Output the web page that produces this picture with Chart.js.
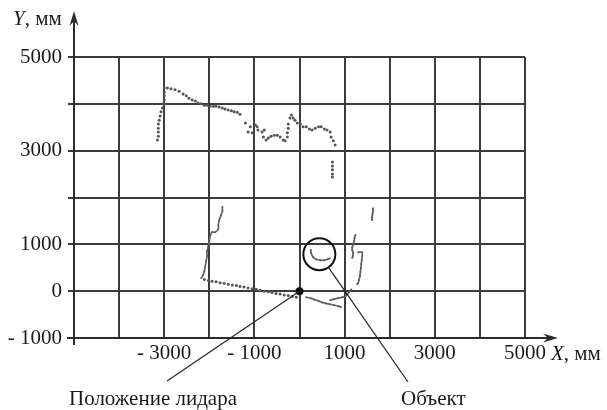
<!DOCTYPE html>
<html>
<head>
<meta charset="utf-8">
<script src="https://cdn.jsdelivr.net/npm/chart.js@4/dist/chart.umd.min.js"></script>
<style>
  html, body { margin: 0; padding: 0; background: #ffffff; }
  canvas { display: block; }
</style>
</head>
<body>
<canvas id="scan" width="607" height="410"></canvas>
<script>
// Lidar scan of the room, coordinates in millimetres relative to the lidar.
const xMin = -5000, xMax = 5000, yMin = -1000, yMax = 5000, gridStep = 1000;
const xLabelValues = [-3000, -1000, 1000, 3000, 5000];
const yLabelValues = [5000, 3000, 1000, 0, -1000];

const wallNorthWest = [[-3000,4340],[-2930,4340],[-2850,4320],[-2760,4300],[-2670,4270],[-2580,4210],[-2510,4170],[-2450,4120],[-2380,4080],[-2310,4060],[-2250,4020],[-2180,4000],[-2110,3970],[-2050,3970],[-1980,3950],[-1910,3950],[-1850,3950],[-1780,3930],[-1710,3910],[-1650,3890],[-1580,3870],[-1510,3850],[-1450,3830],[-1380,3820],[-1320,3780]];
const wallWestUpper = [[-3000,4250],[-3000,4170],[-3000,4080],[-3020,4000],[-3040,3910],[-3070,3830],[-3090,3740],[-3110,3650],[-3130,3570],[-3130,3480],[-3130,3400],[-3130,3310],[-3150,3230]];
const wallNorthEast = [[-1200,3590],[-1140,3400],[-1090,3510],[-1050,3380],[-980,3550],[-940,3510],[-920,3440],[-830,3400],[-780,3440],[-800,3290],[-740,3230],[-690,3270],[-630,3310],[-560,3330],[-490,3330],[-430,3290],[-360,3230],[-320,3210],[-270,3290],[-270,3380],[-250,3480],[-250,3570],[-210,3700],[-180,3760],[-140,3700],[-100,3650],[-50,3590],[20,3570],[80,3510],[150,3510],[220,3460],[280,3440],[350,3480],[420,3510],[480,3510],[550,3460],[610,3440],[680,3400],[700,3290],[750,3210],[790,3120]];
const wallEastUpper = [[730,2760],[730,2670],[730,2590],[730,2500],[730,2440]];
const wallWestLower = [[-1710,1800],[-1710,1710],[-1740,1620],[-1780,1520],[-1800,1410],[-1800,1330],[-1870,1260],[-1940,1260],[-1980,1180],[-2000,1070],[-2020,960],[-2050,860],[-2050,750],[-2070,640],[-2090,530],[-2110,430],[-2140,340],[-2180,280]];
const wallSouth = [[-2110,250],[-2020,230],[-1940,210],[-1850,200],[-1760,180],[-1670,170],[-1580,150],[-1490,130],[-1400,120],[-1320,100],[-1230,90],[-1140,70],[-1050,50],[-960,40],[-870,20],[-780,0],[-690,-10],[-610,-30],[-520,-50],[-430,-60],[-340,-80],[-250,-90],[-160,-110],[-70,-130]];
const wallSouthEast = [[150,-130],[240,-150],[330,-180],[420,-210],[500,-240],[590,-260],[680,-280],[770,-300],[860,-320],[920,-340]];
const wallSouthEastHook = [[680,-190],[770,-170],[860,-150],[950,-130],[1040,-90],[1100,-20],[1150,40]];
const wallEastTop = [[1630,1770],[1630,1710],[1620,1650],[1610,1580],[1610,1520]];
const wallEastMid = [[1240,1200],[1220,1130],[1210,1070],[1190,1000],[1170,940],[1170,880],[1190,810],[1180,750],[1170,710]];
const wallEastLow = [[1300,830],[1390,830],[1390,750],[1380,660],[1370,580],[1360,490],[1350,410],[1340,320],[1320,240],[1300,170],[1280,150]];
const objectEcho = [[250,880],[260,810],[300,730],[370,680],[460,660],[550,660],[620,680],[670,700]];
const objectCentre = [[440,790]];
const lidarPosition = [[0,0]];

const FONT = "'Liberation Serif', 'Times New Roman', serif";
const INK = '#1a1a1a';
const GRID = '#3c3c3c';
const SCAN = '#555555';

const toXY = pts => pts.map(([x, y]) => ({ x, y }));
const dotted = (pts) => ({
  data: toXY(pts), showLine: false, pointRadius: 1.5, pointBorderWidth: 0,
  pointBackgroundColor: SCAN
});
const traced = (pts) => ({
  data: toXY(pts), showLine: true, borderColor: '#666666', borderWidth: 1.7,
  pointRadius: 0.9, pointBorderWidth: 0, pointBackgroundColor: SCAN, tension: 0.3
});

const fmt = v => (v < 0 ? '- ' + Math.abs(v) : String(v));

const annotations = {
  id: 'annotations',
  afterDraw(chart) {
    const { ctx, scales: { x, y } } = chart;
    ctx.save();
    ctx.strokeStyle = '#2a2a2a';
    ctx.fillStyle = '#2a2a2a';

    // axes with arrow heads
    const ax = x.left, ay = y.bottom;
    ctx.lineWidth = 2;
    ctx.beginPath();
    ctx.moveTo(ax, ay + 7); ctx.lineTo(ax, 20);
    ctx.moveTo(ax - 7, ay); ctx.lineTo(552, ay);
    ctx.stroke();
    ctx.beginPath();
    ctx.moveTo(ax, 11); ctx.lineTo(ax + 4.5, 26); ctx.lineTo(ax, 21); ctx.lineTo(ax - 4.5, 26); ctx.closePath();
    ctx.fill();
    ctx.beginPath();
    ctx.moveTo(558, ay); ctx.lineTo(543, ay - 4.5); ctx.lineTo(548, ay); ctx.lineTo(543, ay + 4.5); ctx.closePath();
    ctx.fill();

    // leader lines
    ctx.lineWidth = 1.3;
    const lx = x.getPixelForValue(lidarPosition[0][0]);
    const ly = y.getPixelForValue(lidarPosition[0][1]);
    ctx.beginPath(); ctx.moveTo(lx, ly); ctx.lineTo(167, 381); ctx.stroke();
    const ox = x.getPixelForValue(objectCentre[0][0]);
    const oy = y.getPixelForValue(objectCentre[0][1]);
    const ex = 408, ey = 382;
    const d = Math.hypot(ex - ox, ey - oy);
    ctx.beginPath();
    ctx.moveTo(ox + (ex - ox) * 16 / d, oy + (ey - oy) * 16 / d);
    ctx.lineTo(ex, ey); ctx.stroke();

    // axis titles and callouts
    ctx.fillStyle = INK;
    ctx.textBaseline = 'alphabetic';
    ctx.textAlign = 'left';
    ctx.font = 'italic 21px ' + FONT;
    ctx.fillText('Y', 13, 25);
    let w = ctx.measureText('Y').width;
    ctx.font = '21px ' + FONT;
    ctx.fillText(', мм', 13 + w, 25);

    ctx.font = 'italic 21px ' + FONT;
    ctx.fillText('X', 551, 360);
    w = ctx.measureText('X').width;
    ctx.font = '21px ' + FONT;
    ctx.fillText(', мм', 551 + w, 360);

    ctx.fillText('Положение лидара', 69, 405);
    ctx.fillText('Объект', 401, 405);
    ctx.restore();
  }
};

new Chart(document.getElementById('scan'), {
  type: 'scatter',
  data: {
    datasets: [
      dotted(wallNorthWest),
      dotted(wallWestUpper),
      dotted(wallNorthEast),
      dotted(wallEastUpper),
      traced(wallWestLower),
      dotted(wallSouth),
      traced(wallSouthEast),
      traced(wallSouthEastHook),
      traced(wallEastTop),
      traced(wallEastMid),
      traced(wallEastLow),
      traced(objectEcho),
      { data: toXY(objectCentre), showLine: false, pointRadius: 16, pointBorderWidth: 2,
        pointBorderColor: '#111111', pointBackgroundColor: 'rgba(0,0,0,0)' },
      { data: toXY(lidarPosition), showLine: false, pointRadius: 4, pointBorderWidth: 0,
        pointBackgroundColor: '#111111' }
    ]
  },
  options: {
    responsive: false,
    animation: false,
    events: [],
    layout: { padding: { left: 0, top: 57, right: 82, bottom: 0 } },
    plugins: { legend: { display: false }, tooltip: { enabled: false } },
    scales: {
      x: {
        type: 'linear', min: xMin, max: xMax,
        afterFit: s => { s.height = 72; },
        border: { display: false },
        grid: { color: GRID, lineWidth: 2, drawTicks: false },
        ticks: {
          stepSize: gridStep, autoSkip: false, maxRotation: 0, padding: 3,
          color: INK, font: { family: FONT, size: 21 },
          callback: v => (xLabelValues.includes(v) ? fmt(v) : '')
        }
      },
      y: {
        type: 'linear', min: yMin, max: yMax,
        afterFit: s => { s.width = 74; },
        border: { display: false },
        grid: { color: GRID, lineWidth: 2, drawTicks: true, tickLength: 6 },
        ticks: {
          stepSize: gridStep, autoSkip: false, padding: 6,
          color: INK, font: { family: FONT, size: 21 },
          callback: v => (yLabelValues.includes(v) ? fmt(v) : '')
        }
      }
    }
  },
  plugins: [annotations]
});
</script>
</body>
</html>
